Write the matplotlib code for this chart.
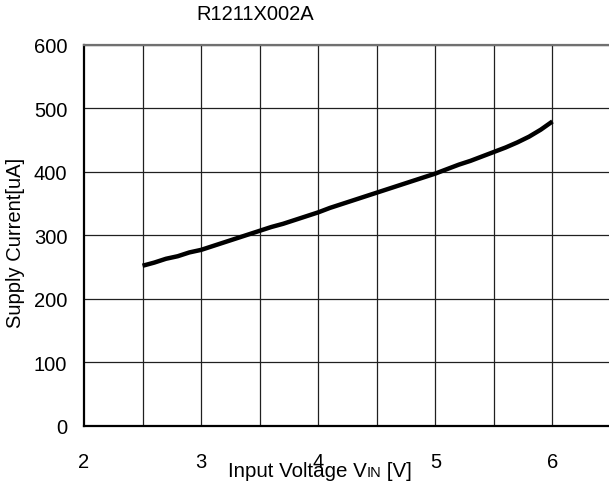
import matplotlib
matplotlib.use("Agg")
import matplotlib.pyplot as plt

plt.rcParams['font.family'] = ['Liberation Sans', 'DejaVu Sans']

# Supply current vs input voltage, R1211X002A
vin = [2.5, 2.6, 2.7, 2.8, 2.9, 3.0, 3.1, 3.2, 3.3, 3.4, 3.5, 3.6,
       3.7, 3.8, 3.9, 4.0, 4.1, 4.2, 4.3, 4.4, 4.5, 4.6, 4.7, 4.8,
       4.9, 5.0, 5.1, 5.2, 5.3, 5.4, 5.5, 5.6, 5.7, 5.8, 5.9, 6.0]
iss = [252, 257, 263, 267, 273, 277, 283, 289, 295, 301, 307, 313,
       318, 324, 330, 336, 343, 349, 355, 361, 367, 373, 379, 385,
       391, 397, 404, 411, 417, 424, 431, 438, 446, 455, 466, 479]

x_ticks = [2, 3, 4, 5, 6]
x_grid = [2.5, 3, 3.5, 4, 4.5, 5, 5.5, 6]
y_ticks = [0, 100, 200, 300, 400, 500, 600]

W, H = 609, 485
fig = plt.figure(figsize=(W / 100, H / 100), dpi=100)
# plot area runs past the right edge of the image
ax = fig.add_axes([84 / W, 1 - 427 / H, 527 / W, (427 - 45.5) / H])

ax.set_xlim(2, 6.5)
ax.set_ylim(0, 600)

for gx in x_grid:
    ax.axvline(gx, color='#202020', lw=0.9, zorder=1)
for gy in y_ticks[1:]:
    ax.axhline(gy, color='#202020', lw=0.9, zorder=1)

ax.plot(vin, iss, color='black', lw=3.2, solid_capstyle='butt', zorder=3)

ax.set_xticks(x_ticks)
ax.set_yticks(y_ticks)
ax.tick_params(length=0, labelsize=14.5)
ax.tick_params(axis='x', pad=19)
ax.tick_params(axis='y', pad=12)

ax.spines['right'].set_visible(False)
ax.spines['left'].set_linewidth(1.6)
ax.spines['bottom'].set_linewidth(1.6)
ax.spines['top'].set_color('#707070')
ax.spines['top'].set_linewidth(1.6)

fig.text(255 / W, 1 - 15 / H, 'R1211X002A', ha='center', va='center', fontsize=14.5)
fig.text(16 / W, 1 - 243 / H, 'Supply Current[uA]', ha='center', va='center',
         rotation=90, fontsize=14.5)

# x label with smaller "IN" after V
fig.canvas.draw()
r = fig.canvas.get_renderer()
parts = [('Input Voltage V', 14.8), ('IN', 10.5), (' [V]', 14.8)]
texts = []
total = 0
for s, fs in parts:
    t = fig.text(0, 0, s, fontsize=fs, ha='left', va='baseline')
    w = t.get_window_extent(r).width
    texts.append((t, w))
    total += w
x0 = 320 - total / 2
base = H - 477
for t, w in texts:
    t.set_position((x0 / W, base / H))
    x0 += w

fig.savefig('out.png', dpi=100)
